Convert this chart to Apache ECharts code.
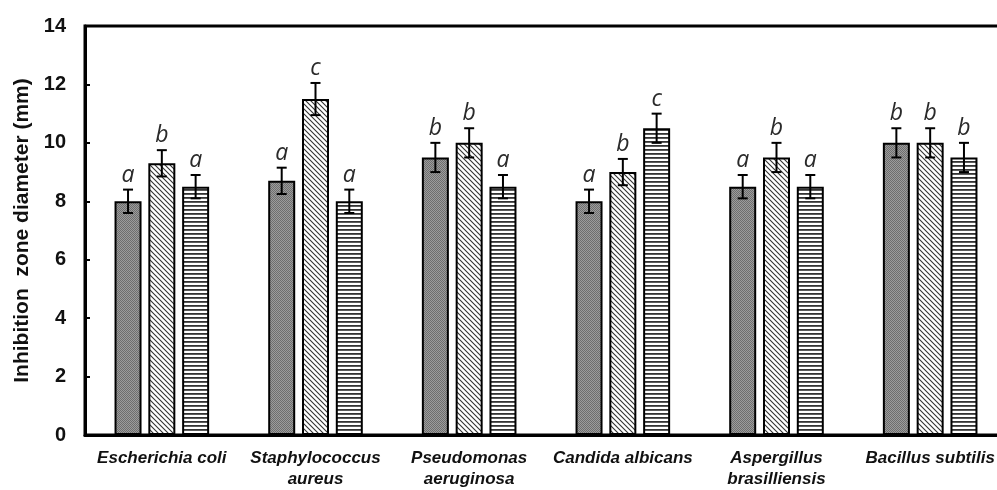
<!DOCTYPE html>
<html><head><meta charset="utf-8">
<script src="https://cdn.jsdelivr.net/npm/echarts@6/dist/echarts.min.js"></script>
<style>html,body{margin:0;padding:0;background:#fff;overflow:hidden;width:997px;height:490px}#c{width:1012px;height:490px}</style>
</head><body><div id="c"></div>
<script>
var categories = ['Escherichia coli','Staphylococcus\naureus','Pseudomonas\naeruginosa','Candida albicans','Aspergillus\nbrasilliensis','Bacillus subtilis'];
var valuesA = [8.0, 8.7, 9.5, 8.0, 8.5, 10.0];
var valuesB = [9.3, 11.5, 10.0, 9.0, 9.5, 10.0];
var valuesC = [8.5, 8.0, 8.5, 10.5, 8.5, 9.5];
var errA = [0.40, 0.45, 0.50, 0.40, 0.40, 0.50];
var errB = [0.45, 0.55, 0.50, 0.45, 0.50, 0.50];
var errC = [0.40, 0.40, 0.40, 0.50, 0.40, 0.50];
var lettersA = ['a','a','b','a','a','b'];
var lettersB = ['b','c','b','b','b','b'];
var lettersC = ['a','a','a','c','a','b'];
var yTicks = [0,2,4,6,8,10,12,14];

function mkPattern(type){
  var c = document.createElement('canvas');
  var ctx = c.getContext('2d');
  if(type==='dots'){
    c.width=4;c.height=4;
    for(var y=0;y<4;y++)for(var x=0;x<4;x++){
      ctx.fillStyle=((x+y)%2===0)?'#6e6e6e':'#9c9c9c';
      ctx.fillRect(x,y,1,1);
    }
  } else if(type==='diag'){
    c.width=5;c.height=5;
    ctx.fillStyle='#fff';ctx.fillRect(0,0,5,5);
    ctx.strokeStyle='#333';ctx.lineWidth=1.1;
    ctx.beginPath();
    ctx.moveTo(-1,-1);ctx.lineTo(6,6);
    ctx.moveTo(-1,4);ctx.lineTo(1,6);
    ctx.moveTo(4,-1);ctx.lineTo(6,1);
    ctx.stroke();
  } else {
    c.width=4;c.height=4;
    ctx.fillStyle='#fff';ctx.fillRect(0,0,4,4);
    ctx.fillStyle='#333';ctx.fillRect(0,1,4,1.8);
  }
  return c;
}

var BW = 27, GAP = 6.8;
function errSeries(vals, errs, letters, k){
  var data = vals.map(function(v,i){return [i, v, errs[i]];});
  return {
    type:'custom', z:5,
    data:data,
    encode:{x:0,y:1},
    renderItem:function(params, api){
      var i = api.value(0), v = api.value(1), e = api.value(2);
      var off = (k-1)*(BW+GAP);
      var top = api.coord([i, v+e]);
      var bot = api.coord([i, v-e]);
      var x = top[0]+off, cw = 5;
      return {type:'group', children:[
        {type:'line', shape:{x1:x,y1:top[1],x2:x,y2:bot[1]}, style:{stroke:'#000',lineWidth:2}},
        {type:'line', shape:{x1:x-cw,y1:top[1],x2:x+cw,y2:top[1]}, style:{stroke:'#000',lineWidth:2}},
        {type:'line', shape:{x1:x-cw,y1:bot[1],x2:x+cw,y2:bot[1]}, style:{stroke:'#000',lineWidth:2}},
        {type:'text', style:{text:letters[params.dataIndex], x:x, y:top[1]-3, align:'center', verticalAlign:'bottom',
          font:'italic 23px "Open Sans", sans-serif', fill:'#2a2a2a'}}
      ]};
    }
  };
}

var chart = echarts.init(document.getElementById('c'), null, {renderer:'canvas', width:1012, height:490});
chart.setOption({
  animation:false,
  grid:{left:85, right:5, top:26, bottom:53, show:true, borderColor:'#000', borderWidth:3, backgroundColor:'transparent'},
  xAxis:{
    type:'category', data:categories,
    axisLine:{lineStyle:{color:'#000',width:3}},
    axisTick:{show:false},
    axisLabel:{interval:0, margin:13, color:'#111', fontFamily:'Liberation Sans, Arial, sans-serif', fontWeight:'bold', fontStyle:'italic', fontSize:17, lineHeight:21}
  },
  yAxis:{
    type:'value', min:0, max:14, interval:2,
    name:'Inhibition  zone diameter (mm)', nameLocation:'middle', nameGap:51,
    nameTextStyle:{color:'#111', fontFamily:'Liberation Sans, Arial, sans-serif', fontWeight:'bold', fontSize:21},
    axisLine:{show:true, lineStyle:{color:'#000',width:3}},
    axisTick:{show:true, inside:true, length:5, lineStyle:{color:'#000',width:2}},
    splitLine:{show:false},
    axisLabel:{margin:19, color:'#111', fontFamily:'Liberation Sans, Arial, sans-serif', fontWeight:'bold', fontSize:20,
      formatter:function(v){return yTicks.indexOf(v)>=0?String(v):'';}}
  },
  series:[
    {type:'bar', data:valuesA, barWidth:BW, barGap:(GAP/BW*100)+'%', itemStyle:{color:{image:mkPattern('dots'),repeat:'repeat'}, borderColor:'#000', borderWidth:2}},
    {type:'bar', data:valuesB, barWidth:BW, barGap:(GAP/BW*100)+'%', itemStyle:{color:{image:mkPattern('diag'),repeat:'repeat'}, borderColor:'#000', borderWidth:2}},
    {type:'bar', data:valuesC, barWidth:BW, barGap:(GAP/BW*100)+'%', itemStyle:{color:{image:mkPattern('horiz'),repeat:'repeat'}, borderColor:'#000', borderWidth:2}},
    errSeries(valuesA, errA, lettersA, 0),
    errSeries(valuesB, errB, lettersB, 1),
    errSeries(valuesC, errC, lettersC, 2)
  ]
});
</script></body></html>
